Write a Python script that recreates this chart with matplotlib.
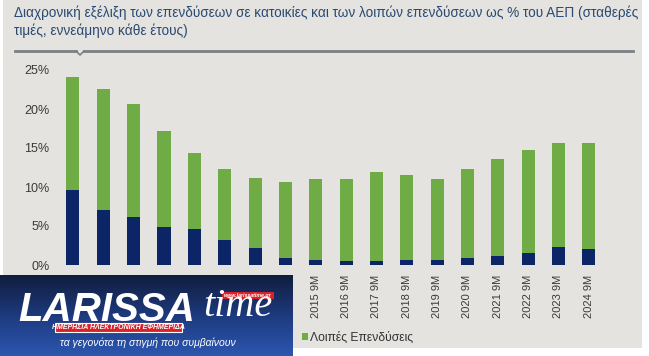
import matplotlib
matplotlib.use("Agg")
import matplotlib.pyplot as plt
import numpy as np
from matplotlib.patches import Rectangle
from matplotlib.colors import LinearSegmentedColormap

years = ["2007 9M", "2008 9M", "2009 9M", "2010 9M", "2011 9M", "2012 9M",
         "2013 9M", "2014 9M", "2015 9M", "2016 9M", "2017 9M", "2018 9M",
         "2019 9M", "2020 9M", "2021 9M", "2022 9M", "2023 9M", "2024 9M"]
housing = [9.6, 7.1, 6.2, 4.9, 4.6, 3.2, 2.2, 0.95, 0.65, 0.55, 0.5, 0.65,
           0.65, 0.9, 1.2, 1.5, 2.3, 2.1]
total = [24.1, 22.6, 20.6, 17.2, 14.3, 12.3, 11.2, 10.7, 11.0, 11.0, 11.9, 11.5,
         11.0, 12.3, 13.6, 14.7, 15.7, 15.7]
other = [t - h for t, h in zip(total, housing)]
yticks = [0, 5, 10, 15, 20, 25]
title = ("Διαχρονική εξέλιξη των επενδύσεων σε κατοικίες και των λοιπών επενδύσεων ως % του ΑΕΠ (σταθερές\n"
         "τιμές, εννεάμηνο κάθε έτους)")

NAVY = "#0b2566"
GREEN = "#6fac46"
BG = "#e4e3df"

plt.rcParams['font.family'] = ['Liberation Sans', 'DejaVu Sans']

W, H = 649, 356
fig = plt.figure(figsize=(W / 100, H / 100), dpi=100, facecolor="white")

# gray panel
fig.patches.append(Rectangle((3 / W, 1 - 348 / H), 639 / W, 348 / H, transform=fig.transFigure,
                             facecolor=BG, edgecolor="none", zorder=-5))
# title
fig.text(14 / W, 1 - 6 / H, title, ha="left", va="top", fontsize=9.8, color="#2a4a72",
         linespacing=1.3)
# title underline with notch
y_line = 1 - 51 / H
fig.add_artist(plt.Line2D([15 / W, 76 / W], [y_line, y_line], transform=fig.transFigure,
                          color="#7a8088", lw=2))
fig.add_artist(plt.Line2D([84 / W, 633 / W], [y_line, y_line], transform=fig.transFigure,
                          color="#7a8088", lw=2))
fig.add_artist(plt.Line2D([76 / W, 80 / W, 84 / W], [y_line, y_line - 4 / H, y_line],
                          transform=fig.transFigure, color="#7a8088", lw=1.2))

left, right = 57.8 / W, 604 / W
bottom, top = 1 - 265 / H, 1 - 70 / H
ax = fig.add_axes([left, bottom, right - left, top - bottom])
ax.set_facecolor("none")
x = np.arange(len(years))
b1 = ax.bar(x, housing, width=0.43, color=NAVY, label="Επενδύσεις σε κατοικίες")
b2 = ax.bar(x, other, width=0.43, bottom=housing, color=GREEN, label="Λοιπές Επενδύσεις")
ax.set_xlim(-0.5, len(years) - 0.5)
ax.set_ylim(0, 25)
ax.set_yticks(yticks)
ax.set_yticklabels([f"{v}%" for v in yticks], fontsize=9, color="#3a3a3a")
ax.set_xticks(x)
ax.set_xticklabels(years, rotation=90, fontsize=8, color="#3a3a3a")
ax.tick_params(length=0, pad=7)
ax.tick_params(axis="y", pad=6)
for s in ax.spines.values():
    s.set_visible(False)

fig.legend(handles=[b1, b2], loc="center left", bbox_to_anchor=(135 / W, 1 - 338 / H),
           ncol=2, frameon=False, fontsize=8.7, handlelength=0.5, handleheight=0.5,
           handletextpad=0.2, columnspacing=1.5, labelcolor="#333333")

# logo overlay (coordinates in px relative to logo box)
lax = fig.add_axes([0, 1 - 356 / H, 293 / W, 81 / H], zorder=10)
grad = np.linspace(0, 1, 100).reshape(-1, 1)
cm = LinearSegmentedColormap.from_list("g", ["#111d3e", "#1d3a7e", "#2c56b0"])
lax.imshow(grad, aspect="auto", cmap=cm, extent=[0, 293, 81, 0])
lax.set_xlim(0, 293)
lax.set_ylim(81, 0)
lax.axis("off")
lax.text(18, 46, "LARISSA", color="white", fontsize=29, fontweight="bold", style="italic",
         ha="left", va="baseline", family="Liberation Sans")
lax.text(203, 41, "time", color="white", fontsize=29, style="italic", ha="left", va="baseline",
         family="Liberation Serif")
lax.add_patch(Rectangle((55, 48), 127, 9, facecolor="#d8232a", edgecolor="white", lw=0.8))
lax.text(118, 52.5, "ΗΜΕΡΗΣΙΑ ΗΛΕΚΤΡΟΝΙΚΗ ΕΦΗΜΕΡΙΔΑ", color="white", fontsize=5,
         fontweight="bold", style="italic", ha="center", va="center")
lax.add_patch(Rectangle((222, 17), 52, 7, facecolor="#d8232a", edgecolor="none"))
lax.text(248, 20.5, "www.larissatime.gr", color="white", fontsize=3.8, fontweight="bold",
         style="italic", ha="center", va="center")
lax.text(148, 68, "τα γεγονότα τη στιγμή που συμβαίνουν", color="white", fontsize=7.5,
         style="italic", ha="center", va="center")

fig.savefig("out.png", dpi=100, facecolor="white")
